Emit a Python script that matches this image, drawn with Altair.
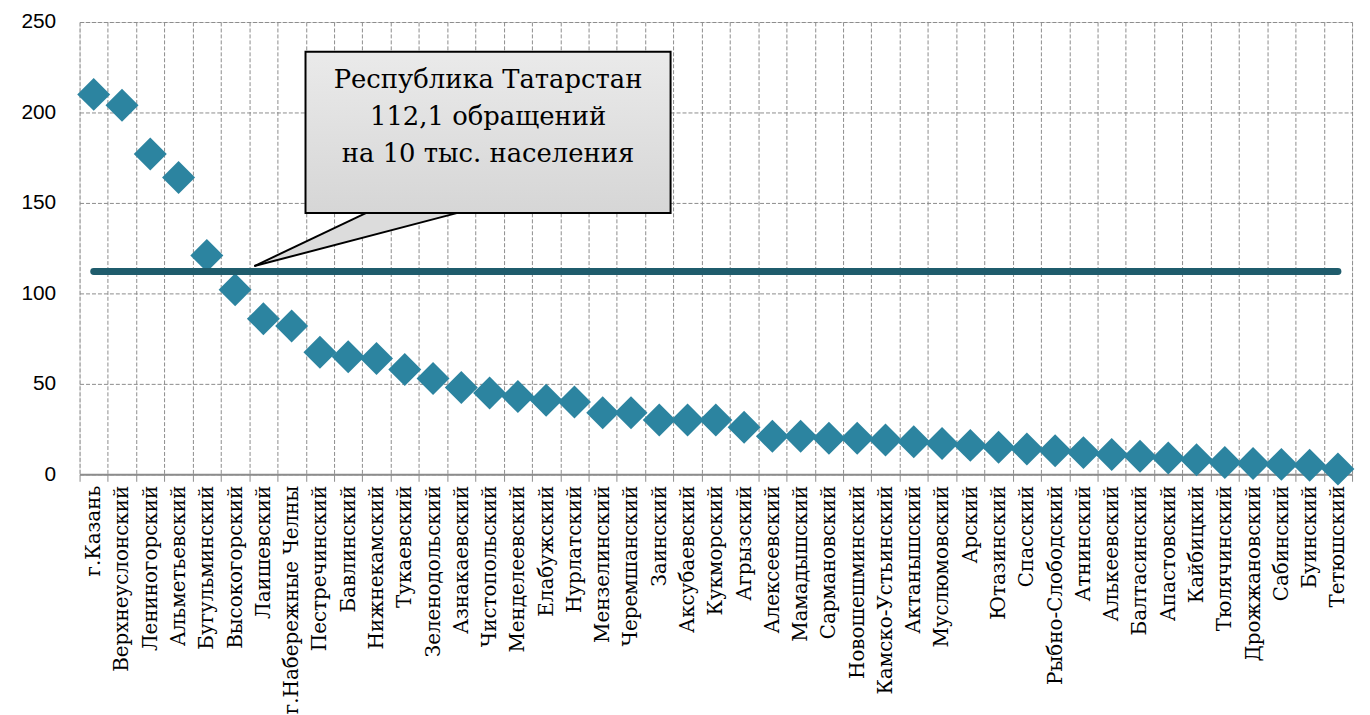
import altair as alt
import pandas as pd

districts = [
    "г.Казань", "Верхнеуслонский", "Лениногорский", "Альметьевский", "Бугульминский",
    "Высокогорский", "Лаишевский", "г.Набережные Челны", "Пестречинский", "Бавлинский",
    "Нижнекамский", "Тукаевский", "Зеленодольский", "Азнакаевский", "Чистопольский",
    "Менделеевский", "Елабужский", "Нурлатский", "Мензелинский", "Черемшанский",
    "Заинский", "Аксубаевский", "Кукморский", "Агрызский", "Алексеевский",
    "Мамадышский", "Сармановский", "Новошешминский", "Камско-Устьинский", "Актанышский",
    "Муслюмовский", "Арский", "Ютазинский", "Спасский", "Рыбно-Слободский",
    "Атнинский", "Алькеевский", "Балтасинский", "Апастовский", "Кайбицкий",
    "Тюлячинский", "Дрожжановский", "Сабинский", "Буинский", "Тетюшский",
]
values = [
    210, 204, 177, 164, 121,
    102, 86, 82, 67.5, 65,
    64, 58, 53, 48, 45,
    43, 41, 40, 34, 34,
    30, 30, 30, 26, 21,
    21, 20, 20, 19, 18,
    17, 16, 15, 14, 13,
    12, 11, 10, 9, 8,
    6.5, 6, 5.5, 5, 3,
]
republic_value = 112.1
callout_lines = ["Республика Татарстан", "112,1 обращений", "на 10 тыс. населения"]

df = pd.DataFrame({"name": districts, "value": values})
df["avg"] = republic_value
n = len(districts)

W, H = 1280, 455
GRID = "#8c8c8c"
SERIF = "DejaVu Serif"

xenc = alt.X(
    "name:N", sort=None,
    scale=alt.Scale(type="band", paddingInner=0, paddingOuter=0),
    axis=alt.Axis(
        title=None, labelAngle=270, labelFont=SERIF, labelFontSize=20,
        labelColor="black", labelLimit=400, labelPadding=4,
        tickBand="extent", grid=True, gridDash=[4, 2], gridColor=GRID, gridWidth=1,
        domainColor=GRID, domainWidth=2, tickColor=GRID, tickSize=7,
    ),
)
yscale = alt.Scale(domain=[0, 250], nice=False)
yaxis = alt.Axis(
    values=[0, 50, 100, 150, 200, 250], title=None,
    labelFont="Liberation Sans",
    labelFontSize=21, labelColor="black", domain=False, ticks=False, labelPadding=24,
    grid=True, gridDash=[4, 2], gridColor=GRID, gridWidth=1,
)

points = alt.Chart(df).mark_point(
    shape="diamond", filled=True, size=1100, color="#2C84A0", opacity=1
).encode(
    x=xenc,
    y=alt.Y("value:Q", scale=yscale, axis=yaxis),
)

avg_line = alt.Chart(df).mark_line(
    color="#1F5C6C", strokeWidth=7, strokeCap="round"
).encode(x=alt.X("name:N", sort=None), y=alt.Y("avg:Q", scale=yscale, axis=yaxis))

base = alt.layer(points, avg_line)

# callout geometry (in category-index units along x, data units along y)
xq = alt.Scale(domain=[0.5, n + 0.5], nice=False, zero=False)
tip_x, tip_y = 6.68, republic_value + 3
ax_, bx_ = 10.64, 13.87
box_x1, box_x2, box_y1, box_y2 = 8.49, 21.4, 144.5, 233.5
t = (ax_ - tip_x) / (bx_ - tip_x)
mid_y2 = tip_y + t * (box_y1 - tip_y)

tri = pd.DataFrame({
    "x": [tip_x, ax_, bx_],
    "y": [tip_y, box_y1, box_y1],
    "y2": [tip_y, mid_y2, box_y1],
})
tri_area = alt.Chart(tri).mark_area(color="#DCDCDC", opacity=1).encode(
    x=alt.X("x:Q", scale=xq, axis=None),
    y=alt.Y("y:Q", scale=yscale, axis=yaxis),
    y2="y2:Q",
)
edges = pd.DataFrame({"x": [tip_x, tip_x], "y": [tip_y, tip_y], "x2": [ax_, bx_], "y2": [box_y1, box_y1]})
tri_edges = alt.Chart(edges).mark_rule(color="black", strokeWidth=2).encode(
    x=alt.X("x:Q", scale=xq, axis=None), y=alt.Y("y:Q", scale=yscale, axis=yaxis),
    x2="x2:Q", y2="y2:Q",
)
box_df = pd.DataFrame({"x": [box_x1], "x2": [box_x2], "y": [box_y1], "y2": [box_y2]})
box = alt.Chart(box_df).mark_rect(
    fill=alt.Gradient(
        gradient="linear", x1=0, y1=0, x2=0, y2=1,
        stops=[alt.GradientStop(color="#EAEAEA", offset=0), alt.GradientStop(color="#D6D6D6", offset=1)],
    ),
    stroke="black", strokeWidth=2,
).encode(
    x=alt.X("x:Q", scale=xq, axis=None), x2="x2:Q",
    y=alt.Y("y:Q", scale=yscale, axis=yaxis), y2="y2:Q",
)
line_y = [218, 197.5, 177]
txt_df = pd.DataFrame({"x": [(box_x1 + box_x2) / 2] * 3, "y": line_y, "t": callout_lines})
txt = alt.Chart(txt_df).mark_text(
    font=SERIF, fontSize=26, color="black", align="center", baseline="middle",
).encode(
    x=alt.X("x:Q", scale=xq, axis=None), y=alt.Y("y:Q", scale=yscale, axis=yaxis), text="t:N",
)
annot = alt.layer(tri_area, tri_edges, box, txt)

chart = alt.layer(base, annot).resolve_scale(x="independent").properties(
    width=W, height=H,
    autosize=alt.AutoSizeParams(type="none"),
    padding={"left": 72, "top": 12, "right": 10, "bottom": 240},
).configure_view(stroke=None).configure(background="white")

chart.save("out.html", embed_options={"renderer": "svg", "actions": False})
